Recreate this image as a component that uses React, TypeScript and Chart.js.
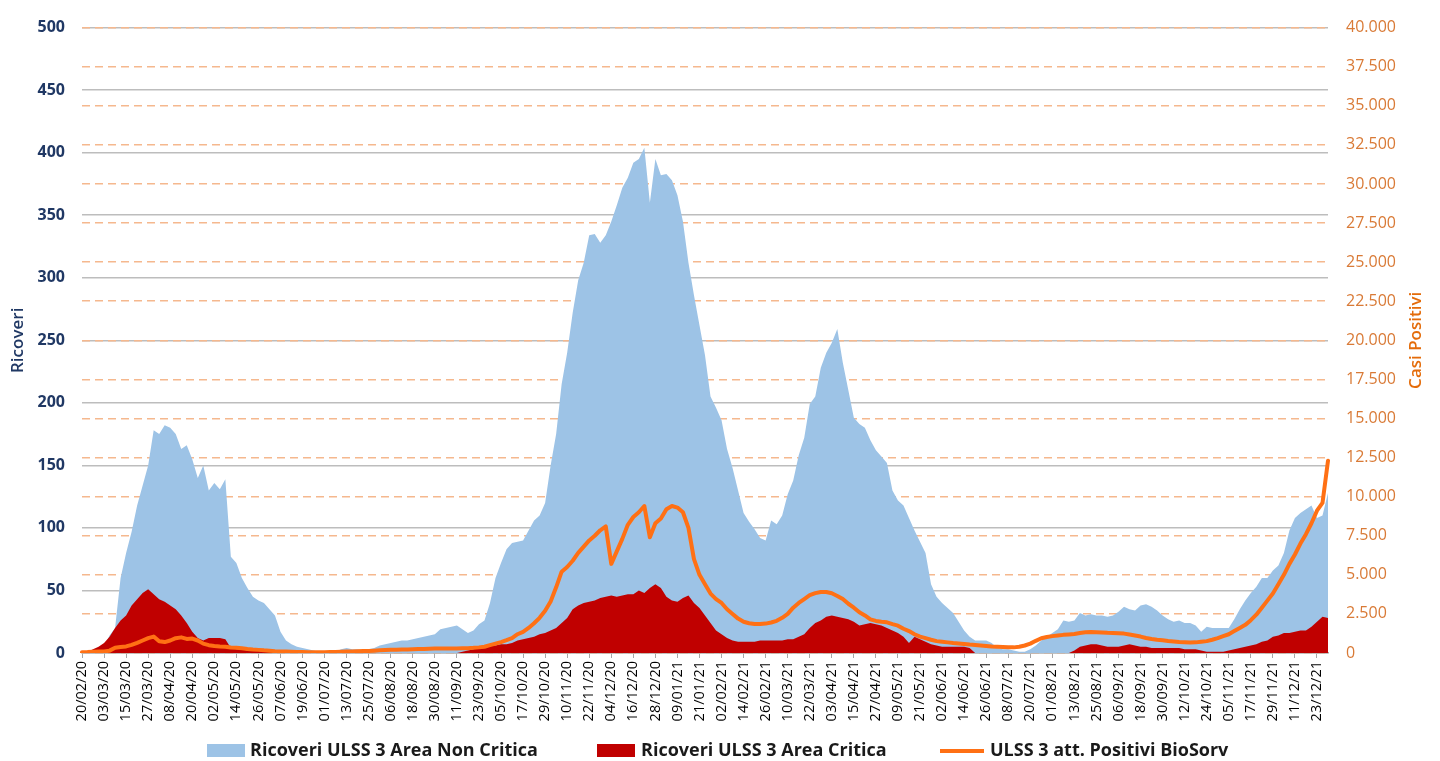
import React, { useEffect, useRef } from 'react';
import { Chart, registerables } from 'chart.js';

Chart.register(...registerables);

// Sampling: one value every 3 days, starting 20/02/2020
const START_UTC = Date.UTC(2020, 1, 20);
const STEP_DAYS = 3;
const TICK_EVERY = 4; // a labelled tick every 12 days

const NON_CRITICA = [
  0, 1, 2, 3, 5, 14, 20, 60, 80, 97,
  118, 134, 150, 178, 175, 182, 180, 175, 163, 166,
  155, 140, 150, 130, 136, 131, 139, 77, 72, 60,
  52, 45, 42, 40, 35, 30, 17, 10, 7, 5,
  4, 3, 2, 1, 0, 0, 1, 3, 4, 3,
  3, 2, 3, 4, 6, 7, 8, 9, 10, 10,
  11, 12, 13, 14, 15, 19, 20, 21, 22, 19,
  16, 18, 23, 26, 40, 60, 72, 83, 88, 89,
  90, 98, 106, 110, 120, 150, 175, 215, 240, 272,
  298, 312, 334, 335, 328, 334, 345, 358, 372, 380,
  392, 395, 404, 360, 395, 382, 383, 378, 366, 345,
  312, 286, 262, 238, 205, 196, 186, 163, 148, 130,
  112, 105, 99, 92, 90, 106, 103, 110, 127, 138,
  158, 172, 199, 205, 228, 240, 248, 259, 232, 210,
  188, 183, 180, 170, 162, 157, 152, 130, 122, 118,
  108, 98, 89, 80, 55, 45, 40, 36, 32, 25,
  18, 13, 10, 10, 10, 8, 4, 3, 3, 2,
  1, 1, 3, 6, 10, 13, 16, 19, 26, 25,
  26, 32, 30, 31, 30, 30, 29, 30, 33, 37,
  35, 34, 38, 39, 37, 34, 30, 27, 25, 26,
  24, 24, 22, 17, 21, 20, 20, 20, 20, 27,
  35, 42, 48, 53, 60, 60, 66, 70, 80, 98,
  108, 112, 115, 118, 108, 110, 128,
];

const CRITICA = [
  0, 1, 3, 5, 8, 13, 20, 26, 30, 38,
  43, 48, 51, 47, 43, 41, 38, 35, 30, 24,
  17, 12, 10, 12, 12, 12, 11, 4, 3, 3,
  2, 2, 2, 1, 1, 1, 0, 0, 0, 0,
  0, 0, 0, 0, 0, 0, 0, 0, 0, 0,
  0, 0, 0, 0, 0, 0, 0, 0, 0, 0,
  0, 0, 0, 0, 0, 0, 0, 0, 0, 1,
  2, 3, 4, 5, 6, 6, 7, 7, 8, 10,
  11, 12, 13, 15, 16, 18, 20, 24, 28, 35,
  38, 40, 41, 42, 44, 45, 46, 45, 46, 47,
  47, 50, 48, 52, 55, 52, 45, 42, 41, 44,
  46, 40, 36, 30, 24, 18, 15, 12, 10, 9,
  9, 9, 9, 10, 10, 10, 10, 10, 11, 11,
  13, 15, 20, 24, 26, 29, 30, 29, 28, 27,
  25, 22, 23, 24, 23, 22, 20, 18, 16, 13,
  8, 13, 11, 9, 7, 6, 5, 5, 5, 5,
  5, 4, 0, 0, 0, 0, 0, 0, 0, 0,
  0, 0, 0, 0, 0, 0, 0, 0, 0, 0,
  2, 5, 6, 7, 7, 6, 5, 5, 5, 6,
  7, 6, 5, 5, 4, 4, 4, 4, 4, 4,
  3, 3, 3, 2, 1, 1, 1, 1, 2, 3,
  4, 5, 6, 7, 9, 10, 13, 14, 16, 16,
  17, 18, 18, 21, 25, 29, 28,
];

const POSITIVI = [
  50, 60, 80, 100, 100, 150, 330, 380, 420, 520,
  650, 800, 950, 1050, 750, 700, 800, 950, 1000, 900,
  920, 800, 600, 500, 450, 420, 400, 350, 330, 300,
  250, 220, 200, 170, 150, 120, 100, 90, 80, 70,
  60, 55, 50, 50, 50, 60, 70, 80, 90, 100,
  110, 120, 130, 150, 170, 190, 200, 210, 220, 230,
  240, 250, 260, 270, 280, 290, 290, 290, 290, 300,
  310, 330, 360, 400, 500, 600, 700, 820, 950, 1200,
  1350, 1600, 1900, 2250, 2700, 3300, 4200, 5200, 5500, 5900,
  6400, 6800, 7200, 7500, 7850, 8100, 5700, 6500, 7300, 8200,
  8700, 9000, 9400, 7400, 8300, 8600, 9200, 9400, 9300, 9000,
  8000, 6000, 5000, 4400, 3800, 3450, 3200, 2800, 2500, 2200,
  2000, 1900, 1850, 1850, 1880, 1950, 2060, 2250, 2500, 2900,
  3200, 3450, 3700, 3830, 3900, 3900, 3820, 3650, 3450, 3150,
  2900, 2600, 2400, 2150, 2050, 2000, 1960, 1850, 1750, 1550,
  1400, 1200, 1050, 950, 850, 760, 720, 680, 640, 610,
  580, 540, 510, 480, 450, 420, 400, 380, 360, 360,
  400, 480, 600, 780, 940, 1020, 1080, 1120, 1160, 1190,
  1220, 1280, 1320, 1350, 1330, 1310, 1290, 1280, 1260, 1240,
  1180, 1120, 1050, 960, 900, 850, 810, 770, 740, 710,
  690, 670, 680, 720, 760, 850, 950, 1080, 1200, 1400,
  1600, 1800, 2100, 2450, 2900, 3350, 3800, 4400, 5000, 5700,
  6300, 7000, 7600, 8300, 9100, 9600, 12300,
];

const pad2 = (n: number) => (n < 10 ? '0' + n : String(n));
const CATEGORIES: string[] = NON_CRITICA.map((_, i) => {
  const d = new Date(START_UTC + i * STEP_DAYS * 86400000);
  return `${pad2(d.getUTCDate())}/${pad2(d.getUTCMonth() + 1)}/${pad2(d.getUTCFullYear() % 100)}`;
});

const SERIES_LABELS = [
  'Ricoveri ULSS 3 Area Non Critica',
  'Ricoveri ULSS 3 Area Critica',
  'ULSS 3 att. Positivi BioSorv',
];
const COLORS = ['#9DC3E6', '#C00000', '#FF7014'];
const LEFT_TITLE = 'Ricoveri';
const RIGHT_TITLE = 'Casi Positivi';

const formatIt = (v: number) => String(v).replace(/\B(?=(\d{3})+(?!\d))/g, '.');

const FONT = '"Open Sans", "Noto Sans", sans-serif';

const extrasPlugin = {
  id: 'extras',
  afterDraw(chart: any) {
    const ctx = chart.ctx as CanvasRenderingContext2D;
    const ca = chart.chartArea;
    const midY = (ca.top + ca.bottom) / 2;
    ctx.save();
    ctx.textAlign = 'center';
    ctx.textBaseline = 'middle';
    // left axis title
    ctx.save();
    ctx.fillStyle = '#203864';
    ctx.font = `600 17px ${FONT}`;
    ctx.translate(18, midY);
    ctx.rotate(-Math.PI / 2);
    ctx.fillText(LEFT_TITLE, 0, 0);
    ctx.restore();
    // right axis title
    ctx.save();
    ctx.fillStyle = '#E46C0A';
    ctx.font = `600 17px ${FONT}`;
    ctx.translate(1416, midY);
    ctx.rotate(-Math.PI / 2);
    ctx.fillText(RIGHT_TITLE, 0, 0);
    ctx.restore();
    // legend
    const ly = 751;
    const items = [
      { sx: 207, tx: 250, type: 'box' },
      { sx: 597, tx: 641, type: 'box' },
      { sx: 940, tx: 990, type: 'line' },
    ];
    ctx.font = `bold 18px ${FONT}`;
    ctx.textAlign = 'left';
    items.forEach((it, i) => {
      if (it.type === 'box') {
        ctx.fillStyle = COLORS[i];
        ctx.fillRect(it.sx, ly - 7, 38, 13);
      } else {
        ctx.strokeStyle = COLORS[i];
        ctx.lineWidth = 4;
        ctx.beginPath();
        ctx.moveTo(it.sx, ly);
        ctx.lineTo(it.sx + 44, ly);
        ctx.stroke();
      }
      ctx.fillStyle = '#1a1a1a';
      ctx.fillText(SERIES_LABELS[i], it.tx, ly);
    });
    ctx.restore();
  },
};

export default function App() {
  const ref = useRef<HTMLCanvasElement | null>(null);
  useEffect(() => {
    if (!ref.current) return;
    const chart = new Chart(ref.current, {
      type: 'line',
      data: {
        labels: CATEGORIES,
        datasets: [
          {
            label: SERIES_LABELS[0],
            data: NON_CRITICA,
            yAxisID: 'y',
            backgroundColor: COLORS[0],
            borderColor: 'rgba(0,0,0,0)',
            borderWidth: 0,
            fill: 'origin',
            pointRadius: 0,
            tension: 0,
            order: 3,
          },
          {
            label: SERIES_LABELS[1],
            data: CRITICA,
            yAxisID: 'y',
            backgroundColor: COLORS[1],
            borderColor: 'rgba(0,0,0,0)',
            borderWidth: 0,
            fill: 'origin',
            pointRadius: 0,
            tension: 0,
            order: 2,
          },
          {
            label: SERIES_LABELS[2],
            data: POSITIVI,
            yAxisID: 'y1',
            borderColor: COLORS[2],
            backgroundColor: COLORS[2],
            borderWidth: 4,
            fill: false,
            pointRadius: 0,
            tension: 0,
            borderJoinStyle: 'round',
            borderCapStyle: 'round',
            order: 1,
          },
        ],
      },
      options: {
        responsive: false,
        animation: false,
        events: [],
        layout: { padding: { top: 18, bottom: 28, left: 0, right: 0 } },
        plugins: {
          legend: { display: false },
          tooltip: { enabled: false },
        },
        scales: {
          x: {
            type: 'category',
            offset: false,
            afterBuildTicks: (s: any) => {
              s.ticks = s.ticks.filter((t: any) => t.value % TICK_EVERY === 0);
            },
            afterFit: (s: any) => {
              s.height = 80;
            },
            ticks: {
              autoSkip: false,
              maxRotation: 90,
              minRotation: 90,
              padding: 3,
              color: '#000000',
              font: { family: FONT, size: 14.5 },
            },
            grid: {
              display: true,
              drawOnChartArea: false,
              drawTicks: true,
              tickLength: 5,
              color: '#A6A6A6',
              lineWidth: 1,
            },
            border: { display: true, color: '#A6A6A6', width: 1.5 },
          },
          y: {
            type: 'linear',
            position: 'left',
            min: 0,
            max: 500,
            afterFit: (s: any) => {
              s.width = 82;
            },
            ticks: {
              stepSize: 50,
              padding: 17,
              color: '#203864',
              font: { family: FONT, size: 16, weight: 'bold' },
            },
            grid: { drawTicks: false, color: '#BDBDBD', lineWidth: 1.5 },
            border: { display: false },
          },
          y1: {
            type: 'linear',
            position: 'right',
            min: 0,
            max: 40000,
            afterFit: (s: any) => {
              s.width = 112;
            },
            ticks: {
              stepSize: 2500,
              padding: 18,
              color: '#D97A36',
              font: { family: FONT, size: 16 },
              callback: (v: any) => formatIt(Number(v)),
            },
            grid: {
              drawTicks: false,
              color: '#F5B88E',
              lineWidth: 1.5,
            },
            border: { display: false, dash: [8, 5] },
          },
        },
      },
      plugins: [extrasPlugin],
    } as any);
    return () => chart.destroy();
  }, []);
  return (
    <div style={{ position: 'fixed', left: 0, top: 0, width: 1440, height: 761, background: '#fff' }}>
      <canvas ref={ref} width={1440} height={761} style={{ display: 'block' }} />
    </div>
  );
}
